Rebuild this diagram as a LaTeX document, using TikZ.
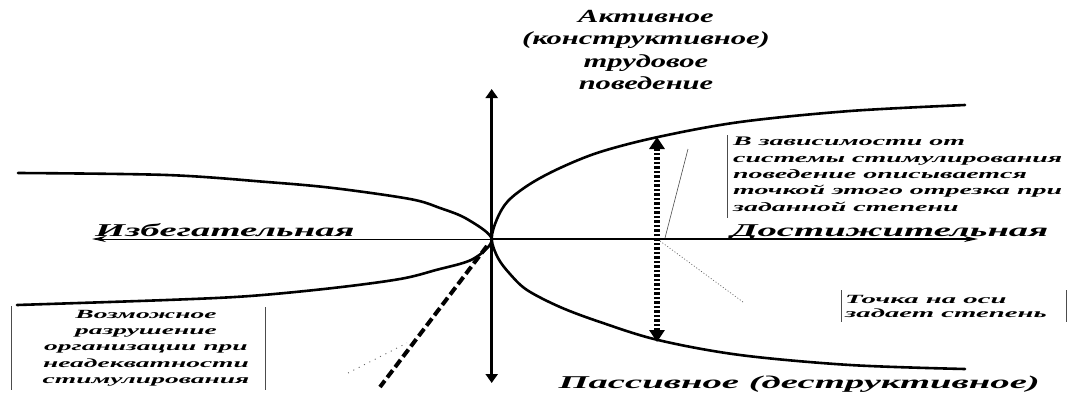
\documentclass[tikz,border=0pt]{standalone}
\usepackage{fontspec}
\setmainfont{Liberation Serif}
\newfontfamily\fBig[FakeStretch=2.15]{Liberation Serif}
\newfontfamily\fTop[FakeStretch=1.65]{Liberation Serif}
\newfontfamily\fRt[FakeStretch=2.15]{Liberation Serif}
\newfontfamily\fBl[FakeStretch=2.2]{Liberation Serif}
\newfontfamily\fPt[FakeStretch=2.3]{Liberation Serif}
\usetikzlibrary{arrows.meta}
\begin{document}
\begin{tikzpicture}[x=1pt,y=-1pt,
  curve/.style={line width=2.6pt, line cap=round},
  vaxis/.style={line width=3pt, {Triangle[width=12pt,length=9pt]}-{Triangle[width=12pt,length=9pt]}},
  haxisl/.style={line width=0.8pt, {Stealth[width=6pt,length=14pt]}-},
  haxisr/.style={line width=1.4pt, -{Stealth[width=6pt,length=14pt]}},
  dotarrow/.style={line width=5.5pt, dash pattern=on 2.5pt off 2pt, {Triangle[width=15pt,length=12pt]}-{Triangle[width=15pt,length=12pt]}},
  thickdash/.style={line width=4pt, dash pattern=on 9pt off 4pt},
  leader/.style={line width=0.6pt, black!70},
  dotleader/.style={line width=0.7pt, black!60, dash pattern=on 1pt off 2pt},
  sparse/.style={line width=0.9pt, black!60, dash pattern=on 1pt off 5pt},
  bar/.style={line width=0.7pt, black!70},
  biglbl/.style={inner sep=0pt, font={\fBig\bfseries\itshape\fontsize{18}{22}\selectfont}},
  toplbl/.style={inner sep=0pt, align=center, font={\fTop\bfseries\itshape\fontsize{18.5}{22.3}\selectfont}},
  rtlbl/.style={inner sep=0pt, align=left, font={\fRt\bfseries\itshape\fontsize{13}{16.4}\selectfont}},
  bllbl/.style={inner sep=0pt, align=center, font={\fBl\bfseries\itshape\fontsize{12.5}{16.3}\selectfont}},
  ptlbl/.style={inner sep=0pt, align=left, font={\fPt\bfseries\itshape\fontsize{12.5}{14}\selectfont}}
]
\fill[white] (0,0) rectangle (1074,394);
\useasboundingbox (0,0) rectangle (1074,394);

\coordinate (O) at (491.7,239);
\coordinate (vT) at (491.7,89);
\coordinate (vB) at (491.7,383);
\coordinate (hL) at (92,239);
\coordinate (hR) at (978,239);
\coordinate (aT) at (657,137);
\coordinate (aB) at (657,342);
\coordinate (dS) at (487,246);
\coordinate (dE) at (380,387);

% left parabola
\draw[curve] plot[smooth, tension=0.55] coordinates {(18,173) (167,175) (267,182) (333,188) (410,199) (440,208) (467,219) (491.7,239) (473,259) (436,270) (400,279) (333,288) (250,296) (167,300) (17,305)};
% right parabola
\draw[curve] plot[smooth, tension=0.55] coordinates {(965,105) (850,111) (740,122) (658,137) (600,152) (560,168) (530,184) (508,201) (497,219) (491.7,239) (498,258) (510,274) (527,290) (560,307) (600,322) (658,340) (740,355) (850,365) (965,369)};

% axes
\draw[haxisl] (hL) -- (O);
\draw[haxisr] (O) -- (hR);
\draw[vaxis] (vB) -- (vT);

% dotted double arrow
\draw[dotarrow] (aB) -- (aT);

% thick dashed line
\draw[thickdash] (dS) -- (dE);

% leaders
\coordinate (l1a) at (665,238);
\coordinate (l1b) at (688,149);
\draw[leader] (l1a) -- (l1b);
\coordinate (l2a) at (660,241);
\coordinate (l2b) at (743,302);
\draw[dotleader] (l2a) -- (l2b);
\coordinate (l3a) at (348,373);
\coordinate (l3b) at (407,343);
\draw[sparse] (l3a) -- (l3b);

% text bars
\coordinate (b1t) at (727,135);
\coordinate (b1b) at (727,218);
\draw[bar] (b1t) -- (b1b);
\coordinate (b2t) at (841,290);
\coordinate (b2b) at (841,322);
\draw[bar] (b2t) -- (b2b);
\coordinate (b3t) at (1066,290);
\coordinate (b3b) at (1066,322);
\draw[bar] (b3t) -- (b3b);
\coordinate (b4t) at (11,306);
\coordinate (b4b) at (11,390);
\draw[bar] (b4t) -- (b4b);
\coordinate (b5t) at (265,307);
\coordinate (b5b) at (265,390);
\draw[bar] (b5t) -- (b5b);

% labels
\node[toplbl, anchor=north] (top) at (646,10) {Активное\\(конструктивное)\\трудовое\\поведение};
\node[rtlbl, anchor=north west] (rt) at (733,137) {В зависимости от\\системы стимулирования\\поведение описывается\\точкой этого отрезка при\\заданной степени};
\node[biglbl, anchor=base west] (izb) at (95,236) {Избегательная};
\node[biglbl, anchor=base west] (dost) at (731,236) {Достижительная};
\node[biglbl, anchor=base east] (pas) at (1040,388) {Пассивное (деструктивное)};
\node[ptlbl, anchor=north west] (pt) at (845,295) {Точка на оси\\задает степень};
\node[bllbl, anchor=north] (bl) at (146,310) {Возможное\\разрушение\\организации при\\неадекватности\\стимулирования};
\end{tikzpicture}
\end{document}
